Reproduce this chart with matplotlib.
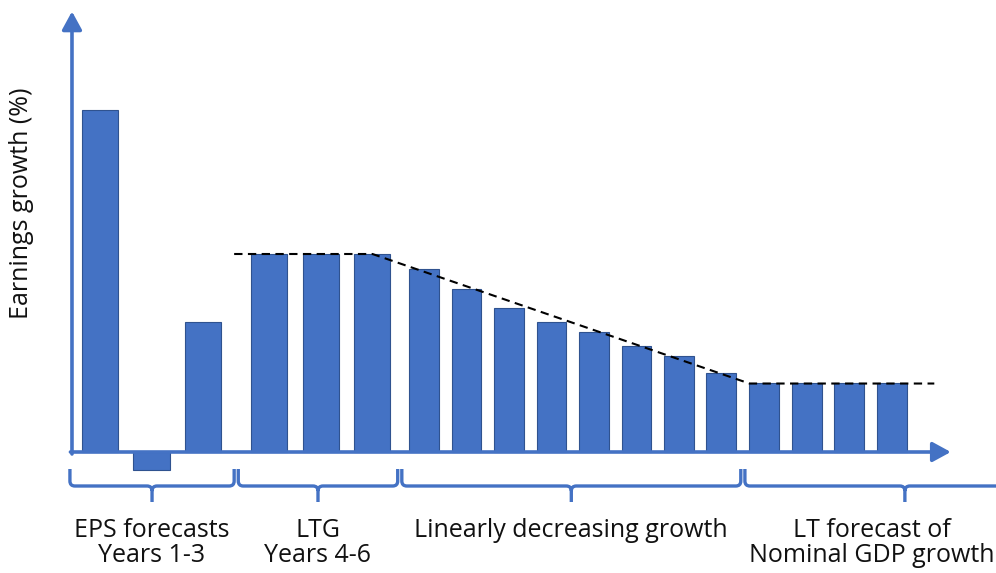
import numpy as np
import matplotlib
matplotlib.use("Agg")
import matplotlib.pyplot as plt
from matplotlib.path import Path
from matplotlib.patches import PathPatch, FancyArrowPatch

# ---------------- data ----------------
group_labels = [
    ["EPS forecasts", "Years 1-3"],
    ["LTG", "Years 4-6"],
    ["Linearly decreasing growth"],
    ["LT forecast of", "Nominal GDP growth"],
]
eps_forecasts = [20.7, -1.1, 7.9]          # years 1-3
ltg_growth = [12.0, 12.0, 12.0]            # years 4-6
decreasing_growth = [11.1, 9.9, 8.7, 7.9, 7.3, 6.4, 5.8, 4.8]   # years 7-14
gdp_growth = [4.2, 4.2, 4.2, 4.2]          # years 15-18
y_label = "Earnings growth (%)"

series = [eps_forecasts, ltg_growth, decreasing_growth, gdp_growth]

# ---------------- layout / style ----------------
BLUE = "#4472C4"
EDGE = "#2F528F"
TXT = "#111111"
FONT = "Open Sans"
FS = 18
group_step = [1.0, 1.0, 0.825, 0.825]
group_gap = [0.0, 0.29, 0.175, 0.01]
bar_frac = 0.70

fig = plt.figure(figsize=(9.96, 5.73), dpi=100)
ax = fig.add_axes([0, 0, 1, 1])
ax.set_xlim(-100 / 51.5, (996 - 100) / 51.5)
ax.set_ylim(-(573 - 452) / 16.5, 452 / 16.5)
ax.axis("off")

# positions of bars
positions, widths, gid = [], [], []
pos = None
for g, vals in enumerate(series):
    for i, _ in enumerate(vals):
        if pos is None:
            pos = 0.0
        elif i == 0:
            pos += group_step[g] + group_gap[g]
        else:
            pos += group_step[g]
        positions.append(pos)
        widths.append(bar_frac * group_step[g])
        gid.append(g)
positions = np.array(positions)
widths = np.array(widths)
values = np.concatenate([np.array(v, float) for v in series])

ax.bar(positions, values, width=widths, color=BLUE, edgecolor=EDGE,
       linewidth=0.8, zorder=3)

# axes arrows
yax_x = -0.544
arrow_kw = dict(arrowstyle="-|>,head_length=1.1,head_width=0.6",
                mutation_scale=10, lw=2.6, color=BLUE,
                shrinkA=0, shrinkB=0, zorder=4)
ax.add_patch(FancyArrowPatch((yax_x, -0.12), (yax_x, 26.7), **arrow_kw))
ax.add_patch(FancyArrowPatch((yax_x - 0.03, 0), (16.52, 0), **arrow_kw))

# dashed trend line
idx = [0]
for v in series:
    idx.append(idx[-1] + len(v))
left_edges = positions - widths / 2
right_edges = positions + widths / 2
b12 = (right_edges[idx[1] - 1] + left_edges[idx[1]]) / 2
trend_x = [b12 - 0.04, positions[idx[2] - 1], left_edges[idx[3]], 16.2]
trend_y = [ltg_growth[-1], ltg_growth[-1], gdp_growth[0] - 0.05, gdp_growth[-1] - 0.05]
ax.plot(trend_x, trend_y, color="black", lw=1.5, ls=(0, (4, 2.6)), zorder=5)

# braces
ux, uy = 1 / 51.5, 1 / 16.5
y_line = -34 * uy
y_end = -17 * uy
y_tip = -50 * uy
r_x, r_y = 5 * ux, 5 * uy

bounds = [yax_x - 0.04]
for g in range(1, 4):
    bounds.append((right_edges[idx[g] - 1] + left_edges[idx[g]]) / 2)
bounds.append(positions[-1] + 3.4)

centers = []
for g in range(4):
    xl = bounds[g] + (0.04 if g > 0 else 0)
    xr = bounds[g + 1] - 0.04
    xc = (xl + xr) / 2
    centers.append(xc)
    verts = [
        (xl, y_end), (xl, y_line + r_y), (xl, y_line), (xl + r_x, y_line),
        (xc - r_x, y_line), (xc, y_line), (xc, y_line - r_y), (xc, y_tip),
        (xc, y_line - r_y), (xc, y_line), (xc + r_x, y_line),
        (xr - r_x, y_line), (xr, y_line), (xr, y_line + r_y), (xr, y_end),
    ]
    codes = [Path.MOVETO, Path.LINETO, Path.CURVE3, Path.CURVE3,
             Path.LINETO, Path.CURVE3, Path.CURVE3, Path.LINETO,
             Path.MOVETO, Path.CURVE3, Path.CURVE3,
             Path.LINETO, Path.CURVE3, Path.CURVE3, Path.LINETO]
    ax.add_patch(PathPatch(Path(verts, codes), fill=False, edgecolor=BLUE,
                           lw=2.4, capstyle="butt", joinstyle="round",
                           zorder=4))

# group labels
text_offset = [0, 0, 0, -0.65]
line_y = [-85 * uy, -110 * uy]
for g, lines in enumerate(group_labels):
    for k, line in enumerate(lines):
        ax.text(centers[g] + text_offset[g], line_y[k], line, ha="center",
                va="baseline", fontsize=FS, family=FONT, color=TXT)

# y label
fig.text(22 / 996, 1 - 203 / 573, y_label, rotation=90, ha="center",
         va="center", fontsize=FS, family=FONT, color=TXT)

fig.savefig("out.png", dpi=100)
